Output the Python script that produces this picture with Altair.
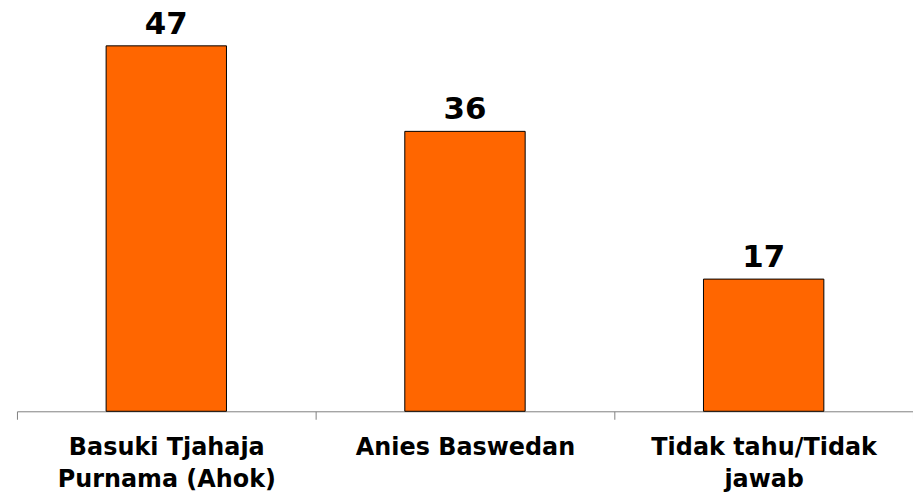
import altair as alt
import pandas as pd

categories = ["Basuki Tjahaja Purnama (Ahok)", "Anies Baswedan", "Tidak tahu/Tidak jawab"]
values = [47, 36, 17]
label_lines = [["Basuki Tjahaja", "Purnama (Ahok)"], ["Anies Baswedan"], ["Tidak tahu/Tidak", "jawab"]]

df = pd.DataFrame({"cat": categories, "val": values})

expr_parts = []
for c, lines in zip(categories, label_lines):
    arr = "[" + ",".join("'" + l + "'" for l in lines) + "]"
    expr_parts.append(f"datum.value == '{c}' ? {arr}")
label_expr = " : ".join(expr_parts) + " : datum.value"

FONT = "DejaVu Sans"

x = alt.X("cat:N", sort=categories, title=None,
          scale=alt.Scale(paddingInner=0, paddingOuter=0),
          axis=alt.Axis(labelAngle=0, labelFont=FONT, labelFontWeight="bold",
                        labelFontSize=24, labelColor="black", labelExpr=label_expr,
                        labelLineHeight=33, labelPadding=16, labelLimit=400,
                        tickBand="extent", tickSize=8, tickColor="#808080",
                        domainColor="#808080", domainWidth=1, tickWidth=1))
y = alt.Y("val:Q", title=None, scale=alt.Scale(domain=[0, 50.45], nice=False, zero=True), axis=None)

bars = alt.Chart(df).mark_bar(color="#FF6600", stroke="black", strokeWidth=1,
                              width=alt.RelativeBandSize(0.403)).encode(x=x, y=y)
text = alt.Chart(df).mark_text(font=FONT, fontWeight="bold", fontSize=31, color="black",
                                baseline="alphabetic", dy=-12).encode(x=alt.X("cat:N", sort=categories), y=y, text="val:Q")

chart = (bars + text).properties(
    width=900, height=394,
    autosize=alt.AutoSizeParams(type="none"),
    padding={"left": 9, "top": 10, "right": 0, "bottom": 80},
).configure_view(stroke=None).configure_axis(grid=False)

chart.save("out.html", embed_options={"renderer": "svg", "actions": False})
